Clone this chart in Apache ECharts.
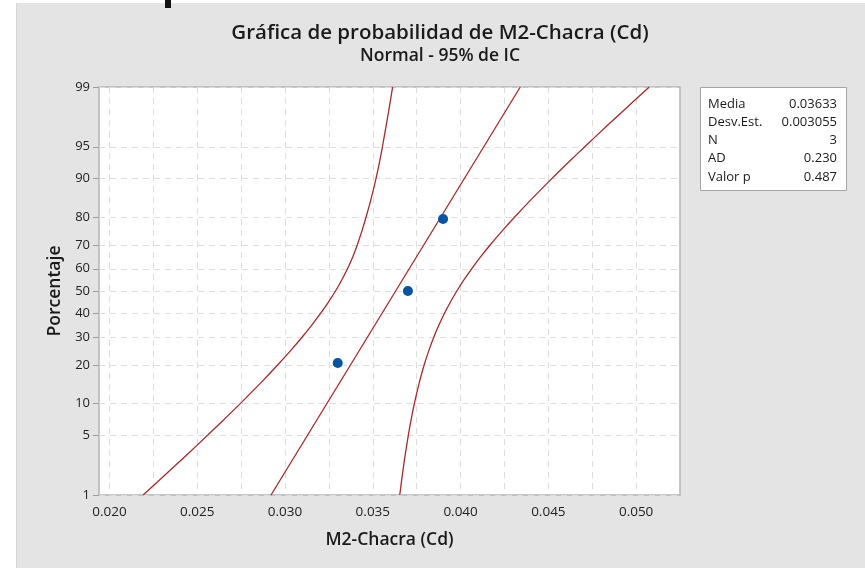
<!DOCTYPE html>
<html>
<head>
<meta charset="utf-8">
<title>Gráfica de probabilidad de M2-Chacra (Cd)</title>
<script src="https://cdn.jsdelivr.net/npm/echarts@6/dist/echarts.min.js"></script>
<style>
    html, body { margin: 0; padding: 0; background: #fff; }
    #wrap { position: relative; width: 865px; height: 568px; }
    #backdrop { position: absolute; left: 16px; top: 3px; right: 0; bottom: 0; background: #e4e4e4; border-left: 1px solid #d6d6d6; }
    #chart { position: absolute; left: 0; top: 0; width: 865px; height: 568px; }
</style>
</head>
<body>
<div id="wrap">
    <div id="backdrop"></div>
    <div id="chart"></div>
</div>
<script>
(function () {
    'use strict';

    // datos de la muestra (posiciones de rango mediano)
    var sampleX = [0.033, 0.037, 0.039];
    var samplePct = [20.6, 50, 79.4];

    var fitX = [0.0292, 0.0434];
    var fitPct = [1, 99];

    // bandas del IC 95%
    var bandPct = [1, 2, 3, 5, 7, 10, 15, 20, 25, 30, 35, 40, 45, 50, 55, 60, 65, 70, 75, 80, 85, 90, 93, 95, 97, 98, 99];
    var bandLeftX = [
        0.021913, 0.023401, 0.024334, 0.025587, 0.026469, 0.027461, 0.028671, 0.029590, 0.030340,
        0.030978, 0.031535, 0.032029, 0.032471, 0.032873, 0.033230, 0.033556, 0.033849, 0.034112,
        0.034361, 0.034612, 0.034883, 0.035181, 0.035386, 0.035547, 0.035755, 0.035905, 0.036127
    ];
    var bandRightX = [
        0.036534, 0.036711, 0.036835, 0.037023, 0.037174, 0.037369, 0.037657, 0.037928, 0.038199,
        0.038478, 0.038771, 0.039084, 0.039421, 0.039787, 0.040189, 0.040631, 0.041125, 0.041682,
        0.042320, 0.043070, 0.043989, 0.045200, 0.046191, 0.047073, 0.048327, 0.049259, 0.050747
    ];

    // ejes
    var yTickPct = [1, 5, 10, 20, 30, 40, 50, 60, 70, 80, 90, 95, 99];
    var xTickLabels = [0.020, 0.025, 0.030, 0.035, 0.040, 0.045, 0.050];
    var xGridValues = [0.0200, 0.0225, 0.0250, 0.0275, 0.0300, 0.0325, 0.0350, 0.0375, 0.0400, 0.0425, 0.0450, 0.0475, 0.0500];

    // tabla de resumen
    var statLabels = ['Media', 'Desv.Est.', 'N', 'AD', 'Valor p'];
    var statValues = ['0.03633', '0.003055', '3', '0.230', '0.487'];

    var FONT = '"Open Sans", "Noto Sans", sans-serif';
    var LINE_COLOR = '#a62a2a';
    var DOT_COLOR = '#0553a3';

    // escala normal: porcentaje -> z (Acklam)
    function probit(p) {
        var a = [-3.969683028665376e+01, 2.209460984245205e+02, -2.759285104469687e+02, 1.383577518672690e+02, -3.066479806614716e+01, 2.506628277459239e+00];
        var b = [-5.447609879822406e+01, 1.615858368580409e+02, -1.556989798598866e+02, 6.680131188771972e+01, -1.328068155288572e+01];
        var c = [-7.784894002430293e-03, -3.223964580411365e-01, -2.400758277161838e+00, -2.549732539343734e+00, 4.374664141464968e+00, 2.938163982698783e+00];
        var d = [7.784695709041462e-03, 3.224671290700398e-01, 2.445134137142996e+00, 3.754408661907416e+00];
        var pLow = 0.02425, q, r;
        if (p < pLow) {
            q = Math.sqrt(-2 * Math.log(p));
            return (((((c[0] * q + c[1]) * q + c[2]) * q + c[3]) * q + c[4]) * q + c[5]) /
                ((((d[0] * q + d[1]) * q + d[2]) * q + d[3]) * q + 1);
        }
        if (p <= 1 - pLow) {
            q = p - 0.5;
            r = q * q;
            return (((((a[0] * r + a[1]) * r + a[2]) * r + a[3]) * r + a[4]) * r + a[5]) * q /
                (((((b[0] * r + b[1]) * r + b[2]) * r + b[3]) * r + b[4]) * r + 1);
        }
        q = Math.sqrt(-2 * Math.log(1 - p));
        return -(((((c[0] * q + c[1]) * q + c[2]) * q + c[3]) * q + c[4]) * q + c[5]) /
            ((((d[0] * q + d[1]) * q + d[2]) * q + d[3]) * q + 1);
    }

    function toPairs(xs, pcts) {
        var out = [];
        for (var i = 0; i < xs.length; i++) {
            out.push([xs[i], probit(pcts[i] / 100)]);
        }
        return out;
    }

    var yTickZ = yTickPct.map(function (p) { return probit(p / 100); });

    var statGraphics = [{
        type: 'rect',
        shape: { x: 700.5, y: 87.5, width: 146, height: 103 },
        style: { fill: '#fff', stroke: '#a4a4a4', lineWidth: 1 }
    }];
    for (var i = 0; i < statLabels.length; i++) {
        statGraphics.push({
            type: 'text', x: 708, y: 104 + i * 18.2,
            style: { text: statLabels[i], font: '13px ' + FONT, fill: '#1a1a1a', textAlign: 'left', textVerticalAlign: 'middle' }
        });
        statGraphics.push({
            type: 'text', x: 837, y: 104 + i * 18.2,
            style: { text: statValues[i], font: '13px ' + FONT, fill: '#1a1a1a', textAlign: 'right', textVerticalAlign: 'middle' }
        });
    }

    var chart = echarts.init(document.getElementById('chart'));
    var option = {
        animation: false,
        backgroundColor: 'transparent',
        textStyle: { fontFamily: FONT },
        graphic: [
            {
                type: 'text', x: 440, y: 33,
                style: { text: 'Gráfica de probabilidad de M2-Chacra (Cd)', font: '600 20.5px ' + FONT, fill: '#1a1a1a', textAlign: 'center', textVerticalAlign: 'middle' }
            },
            {
                type: 'text', x: 440, y: 56,
                style: { text: 'Normal - 95% de IC', font: '600 17.5px ' + FONT, fill: '#1a1a1a', textAlign: 'center', textVerticalAlign: 'middle' }
            },
            {
                // resto de un texto recortado en el borde superior
                type: 'rect',
                shape: { x: 165, y: 0, width: 6, height: 8 },
                style: { fill: '#111' }
            },
            { type: 'group', children: statGraphics }
        ],
        grid: {
            left: 99,
            right: 185,
            top: 87,
            bottom: 73,
            show: true,
            backgroundColor: '#fff',
            borderColor: '#b4b4b4',
            borderWidth: 1.5
        },
        xAxis: {
            type: 'value',
            min: 0.0194,
            max: 0.0525,
            name: 'M2-Chacra (Cd)',
            nameLocation: 'middle',
            nameGap: 36,
            nameTextStyle: { fontSize: 17.5, fontWeight: 600, color: '#1a1a1a' },
            axisLine: { show: false },
            axisTick: { show: false, customValues: xGridValues },
            axisLabel: {
                customValues: xTickLabels,
                margin: 10,
                fontSize: 13.5,
                color: '#222',
                formatter: function (v) { return v.toFixed(3); }
            },
            splitLine: { show: true, lineStyle: { color: '#dddddd', type: [6, 5], width: 1 } }
        },
        yAxis: {
            type: 'value',
            min: yTickZ[0],
            max: yTickZ[yTickZ.length - 1],
            name: 'Porcentaje',
            nameLocation: 'middle',
            nameGap: 33,
            nameTextStyle: { fontSize: 17.5, fontWeight: 600, color: '#1a1a1a' },
            axisLine: { show: false },
            axisTick: { show: true, length: 6, customValues: yTickZ, lineStyle: { color: '#9c9c9c' } },
            axisLabel: {
                customValues: yTickZ,
                margin: 9,
                fontSize: 13,
                color: '#222',
                formatter: function (v) {
                    for (var k = 0; k < yTickZ.length; k++) {
                        if (Math.abs(yTickZ[k] - v) < 1e-6) { return String(yTickPct[k]); }
                    }
                    return '';
                }
            },
            splitLine: { show: true, lineStyle: { color: '#dddddd', type: [6, 5], width: 1 } }
        },
        series: [
            {
                name: 'IC inferior',
                type: 'line',
                data: toPairs(bandLeftX, bandPct),
                smooth: 0.3,
                showSymbol: false,
                lineStyle: { color: LINE_COLOR, width: 1.3 },
                z: 3
            },
            {
                name: 'Ajuste',
                type: 'line',
                data: toPairs(fitX, fitPct),
                showSymbol: false,
                lineStyle: { color: LINE_COLOR, width: 1.3 },
                z: 3
            },
            {
                name: 'IC superior',
                type: 'line',
                data: toPairs(bandRightX, bandPct),
                smooth: 0.3,
                showSymbol: false,
                lineStyle: { color: LINE_COLOR, width: 1.3 },
                z: 3
            },
            {
                name: 'M2-Chacra (Cd)',
                type: 'scatter',
                data: toPairs(sampleX, samplePct),
                symbol: 'circle',
                symbolSize: 10,
                itemStyle: { color: DOT_COLOR, opacity: 1 },
                z: 5
            }
        ]
    };
    chart.setOption(option);
})();
</script>
</body>
</html>
